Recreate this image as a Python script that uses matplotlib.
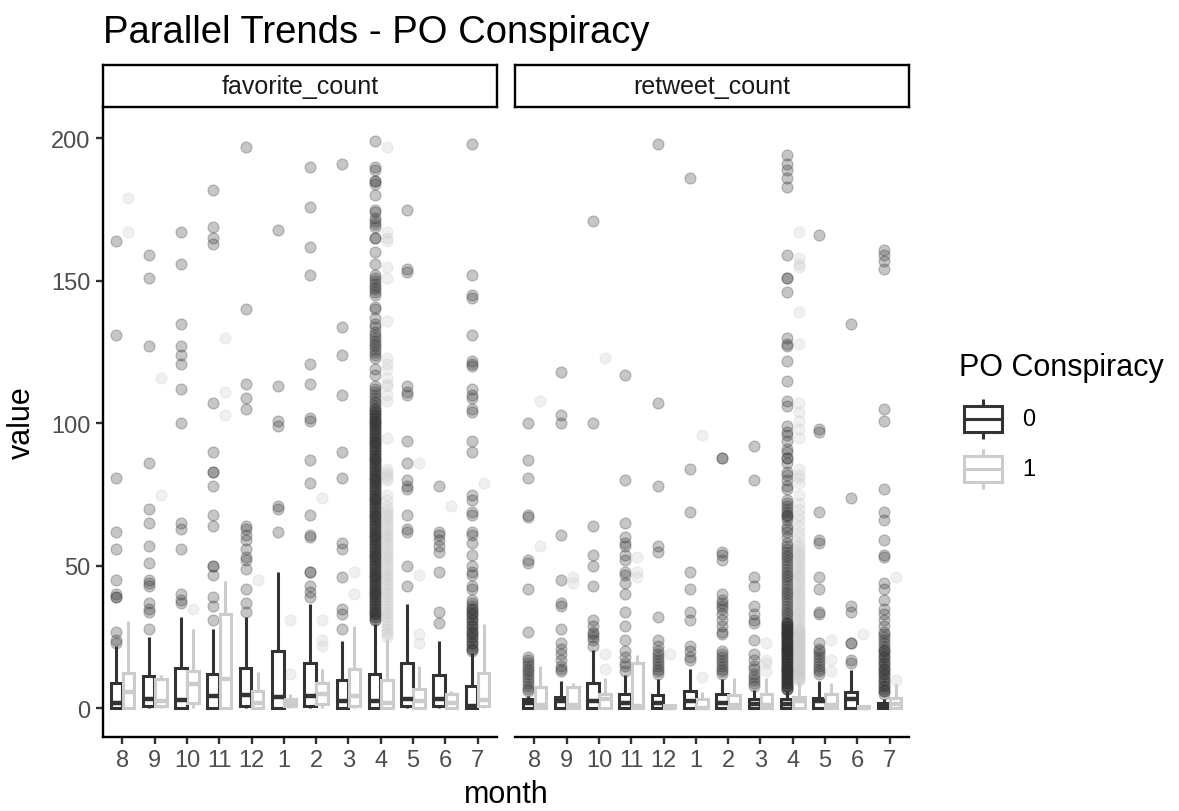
import numpy as np
import matplotlib
matplotlib.use("Agg")
import matplotlib.pyplot as plt

plt.rcParams['font.family'] = ['Liberation Sans', 'DejaVu Sans']

W, H = 1179, 812

months = ["8", "9", "10", "11", "12", "1", "2", "3", "4", "5", "6", "7"]
groups = ["0", "1"]
facets = ["favorite_count", "retweet_count"]
title = "Parallel Trends - PO Conspiracy"
legend_title = "PO Conspiracy"

# ---------------- favorite_count, PO Conspiracy = 0 ----------------
fav0_q1 = [0, 0.7, 0.3, 0.3, 0.9, 0.3, 0.7, 0, 0, 0.7, 0.7, 0]
fav0_med = [2, 3.3, 3, 4.4, 4.7, 3.9, 4.4, 2.7, 2.7, 3.5, 3.3, 0.9]
fav0_q3 = [9, 11.5, 14.2, 12, 14.2, 20, 16.1, 9.9, 12, 16.1, 11.7, 8]
fav0_lo = [0, 0, 0, 0, 0, 0, 0, 0, 0, 0, 0, 0]
fav0_hi = [22, 25, 32, 27.8, 32, 48, 36.6, 23.7, 29.5, 36.6, 23.7, 19.4]
fav0_apr_sparse = [199, 190, 189, 185, 185, 184, 180, 175, 174, 172, 171, 170, 169, 165, 165,
                   160, 156, 152, 151, 150, 149, 148, 147, 146, 145, 141, 140, 137, 135, 134,
                   132, 131, 130, 129, 128, 127, 126, 125, 124, 123, 119, 117]
fav0_apr_column = [31, 32, 33, 34, 35, 36, 37, 38, 39, 40, 41, 42, 43, 44, 45, 46, 47, 48, 49, 50,
                   51, 52, 53, 54, 55, 56, 57, 58, 59, 60, 61, 62, 63, 64, 65, 66, 67, 68, 69, 70,
                   71, 72, 73, 74, 75, 76, 77, 78, 79, 80, 81, 82, 83, 84, 85, 86, 87, 88, 89, 90,
                   91, 92, 93, 94, 95, 96, 97, 98, 99, 100, 101, 102, 103, 104, 105, 106, 107, 108,
                   109, 110, 111, 112, 113]
fav0_apr_column_lower = [31, 32, 33, 34, 35, 36, 37, 38, 39, 40, 41, 42, 43, 44, 45, 46, 47, 48, 49,
                         50, 51, 52, 53, 54, 55, 56, 57, 58, 59, 60, 61, 62, 63, 64, 65, 66, 67, 68,
                         69, 70, 71, 72, 73, 74, 75, 76, 77, 78, 79, 80, 81, 82, 83, 84, 85, 86, 87,
                         88, 89, 90, 91, 92, 93, 94, 95, 96, 97, 98, 99, 100, 101, 102, 103, 104, 105]
fav0_out = [
    [164, 131, 81, 62, 56, 45, 40, 39, 39, 27, 24, 23],
    [159, 151, 127, 86, 70, 65, 57, 51, 45, 44, 43, 37, 35, 34, 28],
    [167, 156, 135, 127, 124, 121, 112, 100, 65, 63, 56, 40, 38, 37],
    [182, 169, 165, 163, 107, 90, 83, 83, 78, 68, 64, 50, 50, 47, 39, 36, 31],
    [197, 140, 114, 109, 105, 64, 63, 61, 59, 56, 53, 52, 49, 42, 37, 34],
    [168, 113, 101, 99, 71, 70, 62],
    [190, 176, 162, 152, 121, 114, 102, 101, 87, 79, 68, 61, 60, 48, 48, 43, 41, 39],
    [191, 134, 124, 110, 90, 81, 58, 56, 46, 35, 33, 28],
    fav0_apr_sparse + fav0_apr_column + fav0_apr_column_lower,
    [175, 154, 153, 113, 111, 110, 94, 86, 80, 78, 77, 68, 63, 62, 50, 43],
    [78, 62, 61, 59, 57, 55, 48, 34, 30],
    [198, 152, 145, 144, 131, 122, 121, 120, 112, 110, 109, 105, 104, 94, 90, 75, 73, 69, 68,
     62, 61, 58, 54, 50, 48, 47, 43, 42, 38, 37, 36, 35, 34, 33, 32, 31, 30, 29, 28, 27, 26,
     25, 24, 23, 22, 21, 20, 35, 33, 31, 29, 27, 25, 23, 21],
]

# ---------------- favorite_count, PO Conspiracy = 1 ----------------
fav1_q1 = [0, 0.7, 2.1, 0, 0, 0.7, 1.5, 0.9, 0.3, 0, 0.3, 0.9]
fav1_med = [5.8, 2.7, 8.5, 10.3, 2, 2, 5, 4.4, 2.1, 2.7, 2, 2.9]
fav1_q3 = [12.6, 10.3, 13.2, 33, 6.2, 3.5, 9.1, 14, 9.9, 7, 5, 12.6]
fav1_lo = [0, 0, 0, 0, 0, 0, 0, 0, 0, 0, 0, 0]
fav1_hi = [30.8, 11.7, 27.8, 44.8, 12.9, 5, 13.8, 29, 24.3, 15, 6, 29.6]
fav1_apr_sparse = [197, 167, 165, 164, 155, 151, 136, 123, 121, 119, 116, 114, 113, 110, 108,
                   95, 84, 83, 82, 81, 80, 75, 73, 71]
fav1_apr_column = [25, 26, 27, 28, 29, 30, 31, 32, 33, 34, 35, 36, 37, 38, 39, 40, 41, 42, 43, 44,
                   45, 46, 47, 48, 49, 50, 51, 52, 53, 54, 55, 56, 57, 58, 59, 60, 61, 62, 63, 64,
                   65, 66, 67, 68, 69, 70]
fav1_out = [
    [179, 167],
    [116, 75],
    [35],
    [130, 111, 103],
    [45],
    [31, 12],
    [74, 31, 24, 22],
    [48, 40],
    fav1_apr_sparse + fav1_apr_column,
    [86, 47, 26, 23],
    [71],
    [79],
]

# ---------------- retweet_count, PO Conspiracy = 0 ----------------
rt0_q1 = [0, 0, 0, 0, 0, 0, 0, 0, 0, 0, 0, 0]
rt0_med = [1.9, 2.7, 2.7, 2.1, 1.9, 2.7, 2.1, 1.5, 1.5, 2.7, 3.3, 0.9]
rt0_q3 = [3.5, 4.2, 8.9, 5, 4.8, 6, 5, 3.3, 3.3, 3.6, 5.8, 2.1]
rt0_lo = [0, 0, 0, 0, 0, 0, 0, 0, 0, 0, 0, 0]
rt0_hi = [4.4, 9.7, 20.6, 11.7, 10.5, 13.8, 10.5, 6.5, 6.2, 9.7, 13.5, 3.3]
rt0_apr_sparse = [194, 191, 189, 186, 183, 159, 151, 151, 146, 130, 128, 127, 122, 115, 108, 106,
                  99, 97, 96, 94, 91, 90, 88, 88, 86, 83, 82, 80, 78, 77, 73, 72, 71, 70, 69, 68,
                  68, 67, 66, 64, 63, 62, 60, 58, 57, 56, 55, 54, 53, 52, 51, 50, 49, 48, 47, 46,
                  45, 44, 43, 42, 41, 40, 39, 38, 37, 36, 35, 34, 33, 32, 31]
rt0_apr_column = [7, 8, 9, 10, 11, 12, 13, 14, 15, 16, 17, 18, 19, 20, 21, 22, 23, 24, 25, 26,
                  27, 28, 29, 30]
rt0_out = [
    [100, 87, 81, 68, 67, 52, 51, 42, 27, 18, 17, 16, 15, 14, 13, 12, 11, 10, 9, 8, 7, 6],
    [118, 103, 100, 61, 45, 37, 36, 28, 23, 21, 19, 17, 15, 14, 13],
    [171, 100, 64, 54, 50, 43, 31, 29, 27, 26, 25, 24, 22],
    [117, 80, 65, 60, 58, 57, 54, 52, 48, 47, 44, 40, 34, 29, 24, 20, 18, 16, 15, 13],
    [198, 107, 78, 57, 55, 32, 24, 22, 20, 19, 18, 17, 16, 15, 14, 13, 12],
    [186, 84, 69, 48, 42, 34, 31, 22, 20, 18, 17],
    [88, 88, 55, 54, 52, 40, 38, 37, 36, 35, 33, 31, 29, 27, 26, 20, 19, 18, 17, 16, 15, 14,
     13, 12],
    [92, 80, 46, 43, 36, 33, 31, 30, 24, 19, 17, 15, 14, 12, 11, 10, 9, 8],
    rt0_apr_sparse + rt0_apr_column + rt0_apr_column + rt0_apr_column,
    [166, 98, 97, 69, 59, 58, 46, 42, 34, 33, 23, 21, 20, 19, 18, 17, 16, 15, 14, 13, 12],
    [135, 74, 36, 34, 23, 23, 17, 16],
    [161, 159, 157, 154, 105, 101, 77, 69, 66, 59, 54, 53, 44, 42, 38, 35, 33, 31, 29, 27,
     26, 25, 24, 23, 22, 21, 20, 19, 18, 17, 16, 15, 14, 13, 12, 11, 10, 9, 8, 7, 6, 5,
     20, 18, 16, 14, 12, 10, 8, 6],
]

# ---------------- retweet_count, PO Conspiracy = 1 ----------------
rt1_q1 = [0, 0, 0.3, 0, 0, 0, 0, 0, 0, 0, 0, 0]
rt1_med = [1.2, 1.2, 3.5, 0.9, 0.3, 0.3, 1.2, 1.2, 2.7, 1.2, 0.3, 1.5]
rt1_q3 = [7.7, 7.6, 5, 15.8, 1.2, 3.5, 4.7, 5, 3.9, 5, 0.8, 3.6]
rt1_lo = [0, 0, 0, 0, 0, 0, 0, 0, 0, 0, 0, 0]
rt1_hi = [15, 8.8, 10.6, 18.8, 1.5, 5.8, 10.6, 10.6, 9.7, 8.9, 1, 8.5]
rt1_apr_sparse = [167, 158, 156, 155, 139, 128, 107, 104, 101, 98, 95, 84, 82, 81, 79, 75, 72,
                  70, 68, 66, 64, 62, 60, 58]
rt1_apr_column = [10, 11, 12, 13, 14, 15, 16, 17, 18, 19, 20, 21, 22, 23, 24, 25, 26, 27, 28, 29,
                  30, 31, 32, 33, 34, 35, 36, 37, 38, 39, 40, 41, 42, 43, 44, 45, 46, 47, 48, 49,
                  50, 51, 52, 53, 54, 55, 56, 57]
rt1_apr_column_lower = [10, 11, 12, 13, 14, 15, 16, 17, 18, 19, 20, 21, 22, 23, 24, 25, 26, 27, 28]
rt1_out = [
    [108, 57],
    [46, 44],
    [123, 19, 14],
    [53, 48, 46],
    [19],
    [96, 11],
    [],
    [23, 17, 16, 13],
    rt1_apr_sparse + rt1_apr_column + rt1_apr_column_lower,
    [24, 17, 13],
    [26],
    [46, 10],
]

panel_data = {
    "favorite_count": [
        (fav0_q1, fav0_med, fav0_q3, fav0_lo, fav0_hi, fav0_out),
        (fav1_q1, fav1_med, fav1_q3, fav1_lo, fav1_hi, fav1_out),
    ],
    "retweet_count": [
        (rt0_q1, rt0_med, rt0_q3, rt0_lo, rt0_hi, rt0_out),
        (rt1_q1, rt1_med, rt1_q3, rt1_lo, rt1_hi, rt1_out),
    ],
}

colors = ["#333333", "#CCCCCC"]
offsets = [-0.1875, 0.1875]
box_w = 0.36
lw_box = 2.2
lw_med = 3.2
tick_col = "#4D4D4D"
tick_fs = 17
strip_fs = 18

fig = plt.figure(figsize=(W / 100, H / 100), dpi=100)


def fx(px):
    return px / W


def fy(py):
    return 1 - py / H


panel_left = [103, 515]
panel_w = 394
panel_top, panel_bot = 108, 738
strip_top = 66

axes = []
for k, facet in enumerate(facets):
    ax = fig.add_axes([fx(panel_left[k]), fy(panel_bot), panel_w / W, (panel_bot - panel_top) / H])
    axes.append(ax)
    xs = np.arange(1, len(months) + 1)
    for g, (q1, med, q3, lo, hi, out) in enumerate(panel_data[facet]):
        pos = xs + offsets[g]
        c = colors[g]
        for i in range(len(months)):
            vals = np.asarray(out[i], dtype=float)
            if vals.size:
                ax.scatter(np.full(vals.size, pos[i]), vals, s=62, color=c, alpha=0.28,
                           edgecolors=c, linewidths=0.9, zorder=2)
        stats = [dict(med=med[i], q1=q1[i], q3=q3[i], whislo=lo[i], whishi=hi[i], fliers=[])
                 for i in range(len(months))]
        ax.bxp(stats, positions=pos, widths=box_w, showcaps=False, showfliers=False,
               patch_artist=True, manage_ticks=False,
               boxprops=dict(facecolor="white", edgecolor=c, linewidth=lw_box),
               medianprops=dict(color=c, linewidth=lw_med, solid_capstyle="butt"),
               whiskerprops=dict(color=c, linewidth=lw_box, solid_capstyle="butt"),
               zorder=3)
    ax.set_xlim(0.4, 12.6)
    ax.set_ylim(-10, 211)
    ax.set_xticks(xs)
    ax.set_xticklabels(months)
    for sp in ["top", "right"]:
        ax.spines[sp].set_visible(False)
    ax.spines["bottom"].set_linewidth(1.7)
    ax.spines["left"].set_linewidth(1.7)
    ax.tick_params(axis="both", length=5, width=1.7, color="#333333", labelcolor=tick_col,
                   labelsize=tick_fs, pad=4)
    if k == 0:
        ax.set_yticks([0, 50, 100, 150, 200])
    else:
        ax.spines["left"].set_visible(False)
        ax.set_yticks([])
    ax.patch.set_alpha(0)

    # strip
    sax = fig.add_axes([fx(panel_left[k]), fy(panel_top), panel_w / W, (panel_top - strip_top) / H])
    sax.set_xticks([])
    sax.set_yticks([])
    for sp in sax.spines.values():
        sp.set_linewidth(1.7)
        sp.set_color("black")
    sax.text(0.5, 0.5, facet, ha="center", va="center", fontsize=strip_fs, color="#1A1A1A",
             transform=sax.transAxes)

# titles
fig.text(fx(103), fy(43), title, fontsize=27.5, ha="left", va="baseline", color="black")
fig.text(fx(506), fy(795), "month", fontsize=22, ha="center", va="center", color="black")
fig.text(fx(22), fy(423), "value", fontsize=22, ha="center", va="center", rotation=90,
         color="black")

# legend
lax = fig.add_axes([0, 0, 1, 1])
lax.set_xlim(0, W)
lax.set_ylim(H, 0)
lax.axis("off")
lax.patch.set_alpha(0)
lax.text(959, 368, legend_title, fontsize=22, ha="left", va="center", color="black")
key_y = [420, 470]
for g, lab in enumerate(groups):
    c = colors[g]
    cy = key_y[g]
    x0, x1 = 964, 1002
    lax.add_patch(plt.Rectangle((x0, cy - 13), x1 - x0, 26, facecolor="white", edgecolor=c,
                                linewidth=lw_box))
    lax.plot([x0, x1], [cy, cy], color=c, linewidth=lw_box, solid_capstyle="butt")
    xm = (x0 + x1) / 2
    lax.plot([xm, xm], [cy - 20, cy - 13], color=c, linewidth=lw_box, solid_capstyle="butt")
    lax.plot([xm, xm], [cy + 13, cy + 20], color=c, linewidth=lw_box, solid_capstyle="butt")
    lax.text(1022, cy, lab, fontsize=tick_fs, ha="left", va="center", color="black")

fig.savefig("out.png", dpi=100)
